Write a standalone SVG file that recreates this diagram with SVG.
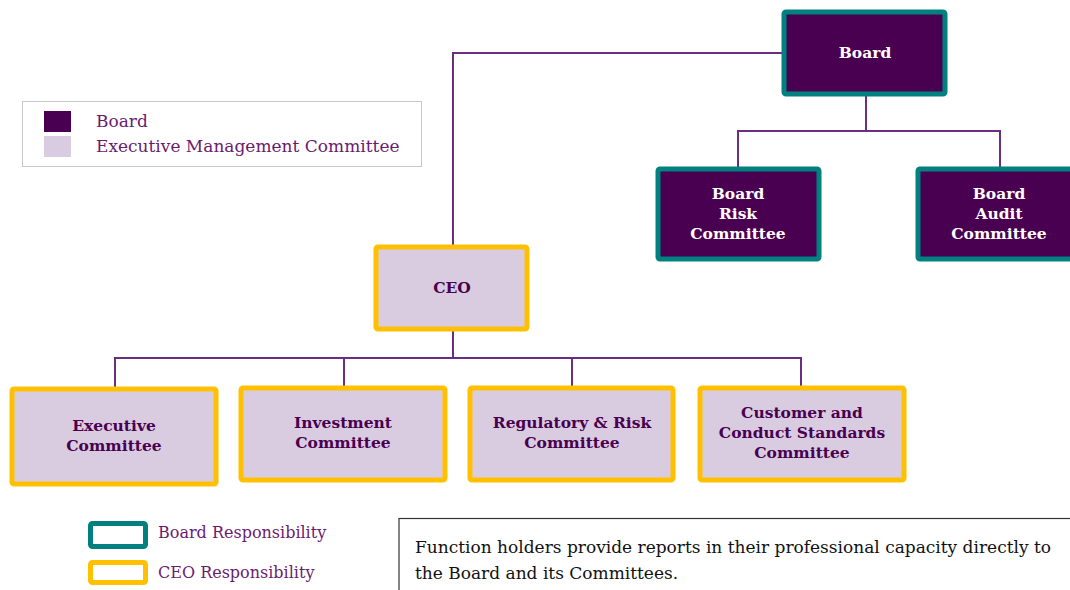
<svg xmlns="http://www.w3.org/2000/svg" width="1070" height="590" viewBox="0 0 1070 590">
<style>
.bd{fill:#4A0050;stroke:#00807F;stroke-width:5}
.ceo{fill:#D9CCE0;stroke:#FFC000;stroke-width:5}
.wt{font-family:"DejaVu Serif","Liberation Serif",serif;font-weight:bold;font-size:15.5px;fill:#FFFFFF;text-anchor:middle}
.pt{font-family:"DejaVu Serif","Liberation Serif",serif;font-weight:bold;font-size:15.5px;fill:#4A0050;text-anchor:middle}
.lg{font-family:"DejaVu Serif","Liberation Serif",serif;font-size:17px;fill:#6A1B70}
.lg2{font-family:"DejaVu Serif","Liberation Serif",serif;font-size:16px;fill:#6A1B70}
.nt{font-family:"DejaVu Serif","Liberation Serif",serif;font-size:17px;fill:#111111}
.cn{fill:none;stroke:#6B2D82;stroke-width:2}
</style>
<rect width="1070" height="590" fill="#FFFFFF"/>
<g id="connectors">
<polyline class="cn" points="784,53 453,53 453,246"/>
<line class="cn" x1="866" y1="96" x2="866" y2="131"/>
<polyline class="cn" points="738,167 738,131 1000,131 1000,167"/>
<line class="cn" x1="453" y1="331" x2="453" y2="358"/>
<polyline class="cn" points="115,387 115,358 801,358 801,387"/>
<line class="cn" x1="344" y1="358" x2="344" y2="387"/>
<line class="cn" x1="572" y1="358" x2="572" y2="387"/>
</g>
<g id="legend">
<rect x="22.5" y="101.5" width="399" height="65" fill="#FFFFFF" stroke="#C8C8C8" stroke-width="1"/>
<rect x="44" y="111" width="27" height="21" fill="#4A0050"/>
<rect x="44" y="136" width="27" height="21" fill="#D9CCE0"/>
<text class="lg" x="96" y="127">Board</text>
<text class="lg" x="96" y="152">Executive Management Committee</text>
</g>
<g id="board">
<rect class="bd" x="784" y="12" width="161" height="82" rx="2"/>
<text class="wt" x="865" y="58">Board</text>
</g>
<g id="board-risk">
<rect class="bd" x="658" y="169" width="161" height="90" rx="2"/>
<text class="wt" x="738" y="199">Board</text>
<text class="wt" x="738" y="219">Risk</text>
<text class="wt" x="738" y="239">Committee</text>
</g>
<g id="board-audit">
<rect class="bd" x="918" y="169" width="161" height="90" rx="2"/>
<text class="wt" x="999" y="199">Board</text>
<text class="wt" x="999" y="219">Audit</text>
<text class="wt" x="999" y="239">Committee</text>
</g>
<g id="ceo">
<rect class="ceo" x="376" y="247" width="151" height="82" rx="2"/>
<text class="pt" x="452" y="293">CEO</text>
</g>
<g id="executive-committee">
<rect class="ceo" x="12" y="389" width="204" height="95" rx="2"/>
<text class="pt" x="114" y="431">Executive</text>
<text class="pt" x="114" y="451">Committee</text>
</g>
<g id="investment-committee">
<rect class="ceo" x="241" y="388" width="204" height="92" rx="2"/>
<text class="pt" x="343" y="428">Investment</text>
<text class="pt" x="343" y="448">Committee</text>
</g>
<g id="regulatory-risk-committee">
<rect class="ceo" x="470" y="388" width="203" height="92" rx="2"/>
<text class="pt" x="572" y="428">Regulatory &amp; Risk</text>
<text class="pt" x="572" y="448">Committee</text>
</g>
<g id="customer-conduct-committee">
<rect class="ceo" x="700" y="388" width="204" height="92" rx="2"/>
<text class="pt" x="802" y="418">Customer and</text>
<text class="pt" x="802" y="438">Conduct Standards</text>
<text class="pt" x="802" y="458">Committee</text>
</g>
<g id="responsibility-legend">
<rect x="90.5" y="523.5" width="55" height="23" rx="2" fill="#FFFFFF" stroke="#00807F" stroke-width="5"/>
<rect x="90.5" y="562.5" width="55" height="20" rx="2" fill="#FFFFFF" stroke="#FFC000" stroke-width="5"/>
<text class="lg2" x="158" y="538">Board Responsibility</text>
<text class="lg2" x="158" y="578">CEO Responsibility</text>
</g>
<g id="note">
<rect x="399" y="518.5" width="700" height="100" fill="#FFFFFF" stroke="#333333" stroke-width="1.2"/>
<text class="nt" x="415" y="553">Function holders provide reports in their professional capacity directly to</text>
<text class="nt" x="415" y="579">the Board and its Committees.</text>
</g>
</svg>
